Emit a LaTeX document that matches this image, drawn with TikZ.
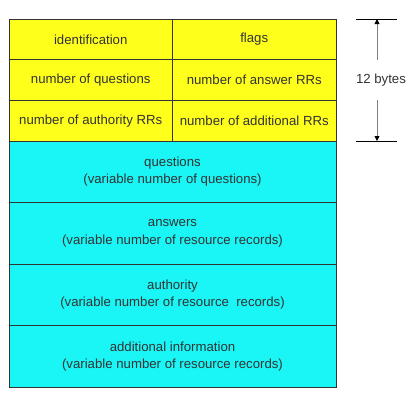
\documentclass[tikz,border=0pt]{standalone}
\usepackage{fontspec}
\setmainfont{Liberation Sans}
\usetikzlibrary{positioning, arrows.meta}
\definecolor{hdryellow}{RGB}{255,255,28}
\definecolor{seccyan}{RGB}{26,245,245}

\tikzset{
  field/.style={rectangle, draw=black!80, fill=hdryellow, minimum width=163.5pt, minimum height=40.7pt, inner sep=0pt, outer sep=0pt},
  section/.style={rectangle, draw=black!80, fill=seccyan, minimum width=327pt, minimum height=61.5pt, align=center, inner sep=0pt, outer sep=0pt},
  sizearrow/.style={draw=black!50, -{Triangle[black, length=5pt, width=5pt]}}
}

\begin{document}
\begin{tikzpicture}[x=1pt, y=-1pt, node distance=0pt, line width=0.8pt, text=black!80,
  font=\fontsize{13.2}{17.2}\selectfont]
  \useasboundingbox (0,0) rectangle (413,410);

  % fixed header, 12 bytes
  \node[field, anchor=north west] at (9,19) (id) {identification};
  \node[field, right=of id] (flags) {flags};
  \node[field, below=of id] (nq) {number of questions};
  \node[field, below=of flags] (nans) {number of answer RRs};
  \node[field, below=of nq] (nauth) {number of authority RRs};
  \node[field, below=of nans] (nadd) {number of additional RRs};

  % variable part
  \node[section, anchor=north west] at (nauth.south west) (quest) {questions\\(variable number of questions)};
  \node[section, below=of quest] (answ) {answers\\(variable number of resource records)};
  \node[section, below=of answ] (auth) {authority\\(variable number of resource\ \ records)};
  \node[section, below=of auth] (addi) {additional information\\(variable number of resource records)};

  % size of the header
  \coordinate (toptick) at (377,19);
  \coordinate (bottick) at (377,141);
  \node[minimum height=40pt, inner sep=0pt] at (381,80) (bytes) {12 bytes};
  \draw[line width=0.6pt] ([xshift=-21pt]toptick) -- ([xshift=20pt]toptick);
  \draw[line width=0.6pt] ([xshift=-21pt]bottick) -- ([xshift=20pt]bottick);
  \draw[sizearrow] (bytes.north -| toptick) -- (toptick);
  \draw[sizearrow] (bytes.south -| bottick) -- (bottick);
\end{tikzpicture}
\end{document}
